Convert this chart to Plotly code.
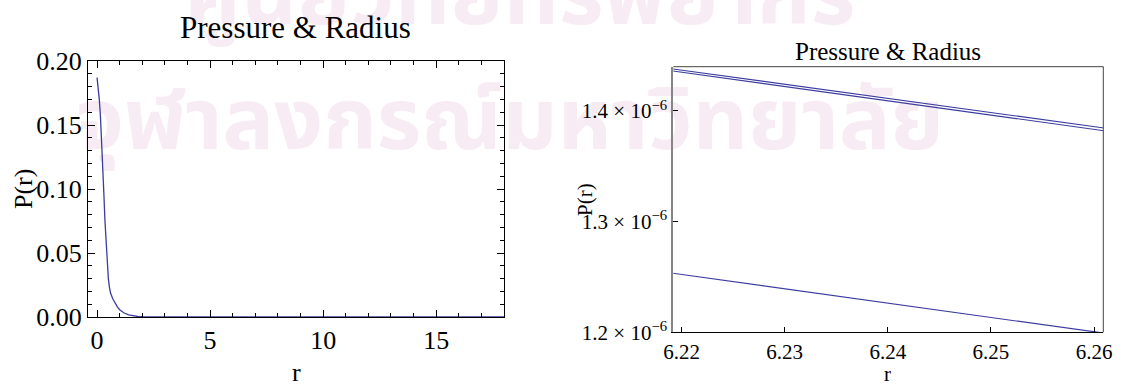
import plotly.graph_objects as go

# Pressure profile P(r) over the full radius range
r_full = [0.0, 0.05, 0.1, 0.15, 0.2, 0.25, 0.3, 0.35, 0.4, 0.45, 0.5, 0.55, 0.6,
          0.7, 0.8, 0.9, 1.0, 1.2, 1.4, 1.6, 1.8, 2.0, 2.5, 3.0, 4.0, 6.0, 8.0,
          10.0, 12.0, 15.0, 18.0]
p_full = [0.187, 0.180, 0.170, 0.157, 0.140, 0.120, 0.097, 0.075, 0.056, 0.041,
          0.030, 0.023, 0.0185, 0.0140, 0.0107, 0.0079, 0.0057, 0.0031, 0.0016,
          0.0008, 0.0004, 0.0002, 0.00005, 0.00001, 0.000003, 0.0000014,
          0.0000005, 0.0000002, 0.0000001, 0.0, 0.0]

# Close-up near the surface: three solutions
r_zoom = [6.219, 6.23, 6.24, 6.25, 6.261]
p_zoom_a = [1.4382e-6, 1.4241e-6, 1.4114e-6, 1.3987e-6, 1.3846e-6]
p_zoom_b = [1.4363e-6, 1.4221e-6, 1.4092e-6, 1.3963e-6, 1.3821e-6]
p_zoom_c = [1.2536e-6, 1.2393e-6, 1.2264e-6, 1.2134e-6, 1.1992e-6]

x_ticks_right = [6.22, 6.23, 6.24, 6.25, 6.26]
y_ticks_right = [1.2e-6, 1.3e-6, 1.4e-6]
y_ticktext_right = ["1.2 \u00d7 10<sup>\u22126</sup>", "1.3 \u00d7 10<sup>\u22126</sup>",
                    "1.4 \u00d7 10<sup>\u22126</sup>"]

watermark_rows = ["ศูนย์วิทยทรัพยากร", "จุฬาลงกรณ์มหาวิทยาลัย"]

W, H = 1123, 384
LINE = "#3c3ca0"
SERIF = "Liberation Serif"

fig = go.Figure()

# background layer: watermark text on a full-page hidden axis
fig.add_trace(go.Scatter(
    x=[520, 510], y=[H - 2, H - 127], mode="text", text=watermark_rows,
    textfont=dict(family="Noto Sans Thai, Noto Sans, sans-serif", size=86,
                  color="#f8ecf4", weight="bold"),
    textposition="middle center", hoverinfo="skip", showlegend=False,
    cliponaxis=False, xaxis="x", yaxis="y"))

fig.add_trace(go.Scatter(x=r_full, y=p_full, mode="lines",
                         line=dict(color=LINE, width=1.3),
                         xaxis="x2", yaxis="y2", showlegend=False))
for p in (p_zoom_a, p_zoom_b, p_zoom_c):
    fig.add_trace(go.Scatter(x=r_zoom, y=p, mode="lines",
                             line=dict(color=LINE, width=1.1),
                             xaxis="x3", yaxis="y3", showlegend=False))


def px(x):
    return x / W


def py(y):
    return 1 - y / H


tickfont_l = dict(family=SERIF, size=26, color="black")
tickfont_r = dict(family=SERIF, size=21, color="black")

fig.update_layout(
    width=W, height=H,
    margin=dict(l=0, r=0, t=0, b=0, pad=0, autoexpand=False),
    paper_bgcolor="white", plot_bgcolor="rgba(0,0,0,0)",
    xaxis=dict(domain=[0, 1], range=[0, W], visible=False, fixedrange=True,
               automargin=False),
    yaxis=dict(domain=[0, 1], range=[0, H], visible=False, fixedrange=True,
               automargin=False),
    xaxis2=dict(domain=[px(88), px(504)], range=[-0.4, 18.0], anchor="y2",
                showline=True, linecolor="black", linewidth=1, mirror="allticks",
                ticks="inside", ticklen=7, tickcolor="black",
                tickvals=[0, 5, 10, 15], showgrid=False, zeroline=False,
                minor=dict(ticks="inside", ticklen=4, dtick=1, tick0=0,
                           tickcolor="black", showgrid=False),
                tickfont=tickfont_l, automargin=False),
    yaxis2=dict(domain=[py(317), py(61)], range=[0, 0.2], anchor="x2",
                showline=True, linecolor="black", linewidth=1, mirror="allticks",
                ticks="inside", ticklen=7, tickcolor="black",
                tickvals=[0, 0.05, 0.10, 0.15, 0.20], tickformat=".2f",
                showgrid=False, zeroline=False,
                minor=dict(ticks="inside", ticklen=4, dtick=0.01, tick0=0,
                           tickcolor="black", showgrid=False),
                tickfont=tickfont_l, automargin=False),
    xaxis3=dict(domain=[px(673.3), px(1103.3)], range=[6.2192, 6.2609], anchor="y3",
                showline=True, linecolor="black", linewidth=1.2,
                ticks="inside", ticklen=5, tickcolor="black",
                tickvals=x_ticks_right, ticktext=[f"{v:.2f}" for v in x_ticks_right],
                showgrid=False, zeroline=False, tickfont=tickfont_r,
                automargin=False),
    yaxis3=dict(domain=[py(332.3), py(66.7)], range=[1.2e-6, 1.44e-6], anchor="x3",
                showline=True, linecolor="#858585", linewidth=2,
                ticks="inside", ticklen=5, tickcolor="black",
                tickvals=y_ticks_right, ticktext=y_ticktext_right,
                showgrid=False, zeroline=False, tickfont=tickfont_r,
                automargin=False),
    shapes=[
        dict(type="line", xref="paper", yref="paper", x0=px(673.3), x1=px(1103.3),
             y0=py(66.7), y1=py(66.7), line=dict(color="#444444", width=1)),
        dict(type="line", xref="paper", yref="paper", x0=px(1103.3), x1=px(1103.3),
             y0=py(66.7), y1=py(332.3), line=dict(color="#444444", width=1)),
    ],
    annotations=[
        dict(text="Pressure &amp; Radius", x=px(295.5), y=py(28), xref="paper", yref="paper",
             showarrow=False, xanchor="center", yanchor="middle",
             font=dict(family=SERIF, size=31, color="black")),
        dict(text="Pressure &amp; Radius", x=px(888), y=py(52), xref="paper", yref="paper",
             showarrow=False, xanchor="center", yanchor="middle",
             font=dict(family=SERIF, size=25, color="black")),
        dict(text="r", x=px(296), y=py(372), xref="paper", yref="paper",
             showarrow=False, xanchor="center", yanchor="middle",
             font=dict(family=SERIF, size=26, color="black")),
        dict(text="P(r)", x=px(23), y=py(189), xref="paper", yref="paper",
             showarrow=False, xanchor="center", yanchor="middle", textangle=-90,
             font=dict(family=SERIF, size=26, color="black")),
        dict(text="r", x=px(887), y=py(374), xref="paper", yref="paper",
             showarrow=False, xanchor="center", yanchor="middle",
             font=dict(family=SERIF, size=21, color="black")),
        dict(text="P(r)", x=px(585), y=py(200), xref="paper", yref="paper",
             showarrow=False, xanchor="center", yanchor="middle", textangle=-90,
             font=dict(family=SERIF, size=21, color="black")),
    ],
)

fig.write_html("out.html")
